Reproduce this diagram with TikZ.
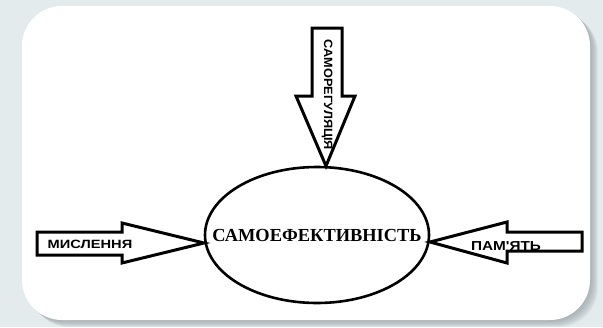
\documentclass[tikz,border=0pt]{standalone}
\usepackage{fontspec}
\setmainfont{Liberation Serif}
\newfontfamily\arrowfont{Liberation Sans}
\usetikzlibrary{shapes.geometric,calc}
\definecolor{bgc}{HTML}{E3EBED}
\definecolor{shadowc}{HTML}{8E989B}
\tikzset{
  arrowshape/.style={draw=black, fill=white, line width=3pt, line join=miter},
  arrowlabel/.style={inner sep=0pt},
  card/.style={rounded corners=40pt},
}
\begin{document}
\begin{tikzpicture}[x=1pt,y=-1pt]
\useasboundingbox (0,0) rectangle (603,327);
\fill[bgc] (0,0) rectangle (603,327);
% soft shadow of the card
\foreach \d in {1,...,9}{
  \fill[shadowc, opacity=0.10, card] (22+\d*0.9,6+\d*0.8) rectangle (590+\d*0.9,320+\d*0.8);
}
\fill[white, card] (22,6) rectangle (590,320);

% central ellipse
\node[ellipse, draw, line width=2.6pt, minimum width=224pt, minimum height=136pt, inner sep=0pt] (self) at (317,235) {};
\node[inner sep=0pt, font=\fontsize{18.4}{18}\selectfont\bfseries] (selflab) at (self.center) {САМОЕФЕКТИВНІСТЬ};

% tips of the three arrows on the ellipse
\coordinate (ttip) at (326,166);
\coordinate (ltip) at (204,243);
\coordinate (rtip) at (430,242);

% top arrow: САМОРЕГУЛЯЦІЯ
\draw[arrowshape] (312,28) -- (342,28) -- (342,96) -- (355,96) -- (ttip) -- (296,96) -- (312,96) -- cycle;
\node[arrowlabel, font=\arrowfont\fontsize{12}{12}\selectfont\bfseries, rotate=-90, xscale=1.06] (tlab) at (327,95) {САМОРЕГУЛЯЦІЯ};

% left arrow: МИСЛЕННЯ
\draw[arrowshape] (37,232) -- (122,232) -- (122,223) -- (ltip) -- (122,263) -- (122,255) -- (37,255) -- cycle;
\node[arrowlabel, font=\arrowfont\fontsize{12}{12}\selectfont\bfseries, xscale=1.22] (llab) at (90,244) {МИСЛЕННЯ};

% right arrow: ПАМ'ЯТЬ
\draw[arrowshape] (582,232) -- (507,232) -- (507,222) -- (rtip) -- (507,263) -- (507,251) -- (582,251) -- cycle;
\node[arrowlabel, font=\arrowfont\fontsize{13}{13}\selectfont\bfseries, xscale=1.18] (rlab) at (506,246.5) {ПАМ'ЯТЬ};
\end{tikzpicture}
\end{document}
